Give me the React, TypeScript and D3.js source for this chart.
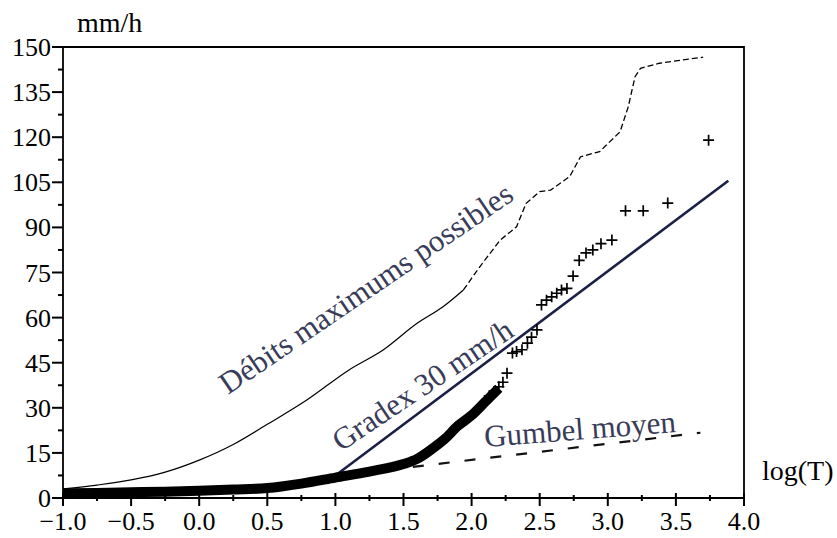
import React from "react";
import * as d3 from "d3";

// ---------- data ----------
const X_TICKS = [-1.0, -0.5, 0.0, 0.5, 1.0, 1.5, 2.0, 2.5, 3.0, 3.5, 4.0];
const X_MINOR = [-0.75, -0.25, 0.25, 0.75, 1.25, 1.75, 2.25, 2.75, 3.25, 3.75];
const Y_TICKS = [0, 15, 30, 45, 60, 75, 90, 105, 120, 135, 150];
const Y_MINOR = [7.5, 22.5, 37.5, 52.5, 67.5, 82.5, 97.5, 112.5, 127.5, 142.5];

// "Débits maximums possibles" envelope
const envelopeX = [-1.0, -0.75, -0.5, -0.25, 0.0, 0.25, 0.5, 0.79, 1.1, 1.35, 1.6, 1.79, 1.94,
  2.06, 2.21, 2.33, 2.4, 2.5, 2.58, 2.72, 2.8, 2.94, 3.09, 3.15, 3.2, 3.24, 3.38, 3.55, 3.7];
const envelopeY = [3.0, 4.3, 6.0, 8.6, 12.6, 17.8, 24.5, 32.6, 42.6, 49.2, 58.1, 63.6, 69.2,
  76.9, 85.8, 90.2, 98.0, 101.9, 102.4, 106.9, 113.5, 115.2, 121.8, 130.1, 140.1, 142.9, 144.6, 145.7, 146.6];
const ENVELOPE_DASH_FROM = 1.94;

// Gradex 30 mm/h straight line
const gradexX = [1.0, 3.885];
const gradexY = [7.5, 105.5];

// Gumbel moyen dashed line
const gumbelX = [1.0, 3.68];
const gumbelY = [7.3, 21.7];

// observations: dense band (low return periods)
const bandX = [-1.0, -0.75, -0.5, -0.25, 0.0, 0.25, 0.5, 0.75, 1.0, 1.25, 1.5, 1.6, 1.7, 1.8, 1.9, 2.0, 2.1, 2.2];
const bandY = [1.6, 1.7, 1.9, 2.1, 2.4, 2.8, 3.3, 4.8, 6.8, 8.8, 11.3, 13.0, 16.0, 19.5, 24.0, 27.5, 32.0, 36.5];

// observations: individual "+" points
const obsX = [2.13, 2.17, 2.2, 2.23, 2.26, 2.30, 2.33, 2.37, 2.41, 2.44, 2.48, 2.513, 2.55, 2.588, 2.625, 2.66, 2.70,
  2.745, 2.79, 2.84, 2.89, 2.95, 3.03, 3.13, 3.26, 3.44, 3.74];
const obsY = [34.0, 35.5, 37.0, 38.5, 41.5, 48.2, 48.7, 49.3, 51.5, 53.5, 55.9, 64.2, 65.8, 66.9, 68.1, 69.2, 69.7,
  73.8, 79.0, 81.5, 82.5, 84.6, 85.8, 95.5, 95.5, 98.1, 119.0];

const fmtX = (v: number) => (v < 0 ? "\u2212" : "") + Math.abs(v).toFixed(1);

export default function App() {
  const W = 837, H = 538;
  const x = d3.scaleLinear().domain([-1, 4]).range([63, 744]);
  const y = d3.scaleLinear().domain([0, 150]).range([498, 47]);
  const font = "Liberation Serif, Times New Roman, Times, serif";
  const annColor = "#393c58";

  const pts = (xs: number[], ys: number[]) => xs.map((v, i) => [v, ys[i]] as [number, number]);
  const line = d3.line<[number, number]>().x(d => x(d[0])).y(d => y(d[1]));
  const smooth = d3.line<[number, number]>().x(d => x(d[0])).y(d => y(d[1])).curve(d3.curveMonotoneX);

  const env = pts(envelopeX, envelopeY);
  const envSolid = env.filter(d => d[0] <= ENVELOPE_DASH_FROM);
  const envDashed = env.filter(d => d[0] >= ENVELOPE_DASH_FROM);

  const [x0, x1] = x.range();
  const [yb, yt] = y.range();
  const txt = { fontFamily: font };

  return (
    <svg width={W} height={H} style={{ position: "fixed", left: 0, top: 0, background: "#fff", fontFamily: font }}>
      <rect width={W} height={H} fill="#fff" />

      {/* envelope */}
      <path d={smooth(envSolid) || ""} fill="none" stroke="#000" strokeWidth={1.2} />
      <path d={line(envDashed) || ""} fill="none" stroke="#000" strokeWidth={1.3} strokeDasharray="6,3" />

      {/* gumbel */}
      <path d={line(pts(gumbelX, gumbelY)) || ""} fill="none" stroke="#111" strokeWidth={2.2} strokeDasharray="11,15" />

      {/* gradex */}
      <path d={line(pts(gradexX, gradexY)) || ""} fill="none" stroke="#1c2046" strokeWidth={2.6} />

      {/* dense observations */}
      <path d={smooth(pts(bandX, bandY)) || ""} fill="none" stroke="#000" strokeWidth={10} strokeLinejoin="round" />

      {/* individual observations */}
      {obsX.map((v, i) => {
        const cx = x(v), cy = y(obsY[i]);
        const a = 5.5;
        return (
          <path key={i} d={`M${cx - a},${cy}H${cx + a}M${cx},${cy - a}V${cy + a}`} stroke="#000" strokeWidth={1.7} />
        );
      })}

      {/* frame */}
      <path d={`M${x0},${yt}H${x1}V${yb}`} fill="none" stroke="#000" strokeWidth={1.8} />
      <line x1={x0} x2={x1} y1={yb} y2={yb} stroke="#000" strokeWidth={1.8} />
      <line x1={x0} x2={x0} y1={yb} y2={yt} stroke="#000" strokeWidth={1.8} />

      {/* x ticks */}
      {X_TICKS.map(t => (
        <g key={"xt" + t}>
          <line x1={x(t)} x2={x(t)} y1={yb - 5} y2={yb + 8} stroke="#000" strokeWidth={2} />
          <text x={x(t)} y={530} textAnchor="middle" fontSize={26} style={txt}>{fmtX(t)}</text>
        </g>
      ))}
      {X_MINOR.map(t => (
        <line key={"xm" + t} x1={x(t)} x2={x(t)} y1={yb - 3} y2={yb + 3} stroke="#000" strokeWidth={2} />
      ))}

      {/* y ticks */}
      {Y_TICKS.map(t => (
        <g key={"yt" + t}>
          <line x1={x0 - 11} x2={x0} y1={y(t)} y2={y(t)} stroke="#000" strokeWidth={2} />
          <text x={51} y={y(t) + 9} textAnchor="end" fontSize={26} style={txt}>{t}</text>
        </g>
      ))}
      {Y_MINOR.map(t => (
        <line key={"ym" + t} x1={x0 - 5} x2={x0} y1={y(t)} y2={y(t)} stroke="#000" strokeWidth={2} />
      ))}

      {/* axis titles */}
      <text x={77} y={32} fontSize={28} style={txt}>mm/h</text>
      <text x={762} y={480} fontSize={28} style={txt}>log(T)</text>

      {/* annotations */}
      <text transform="translate(228,395) rotate(-34.3)" fontSize={31} fill={annColor} style={txt}>Débits maximums possibles</text>
      <text transform="translate(341,452) rotate(-33.8)" fontSize={31} fill={annColor} style={txt}>Gradex 30 mm/h</text>
      <text transform="translate(485,447) rotate(-4.5)" fontSize={31} fill={annColor} style={txt}>Gumbel moyen</text>
    </svg>
  );
}
